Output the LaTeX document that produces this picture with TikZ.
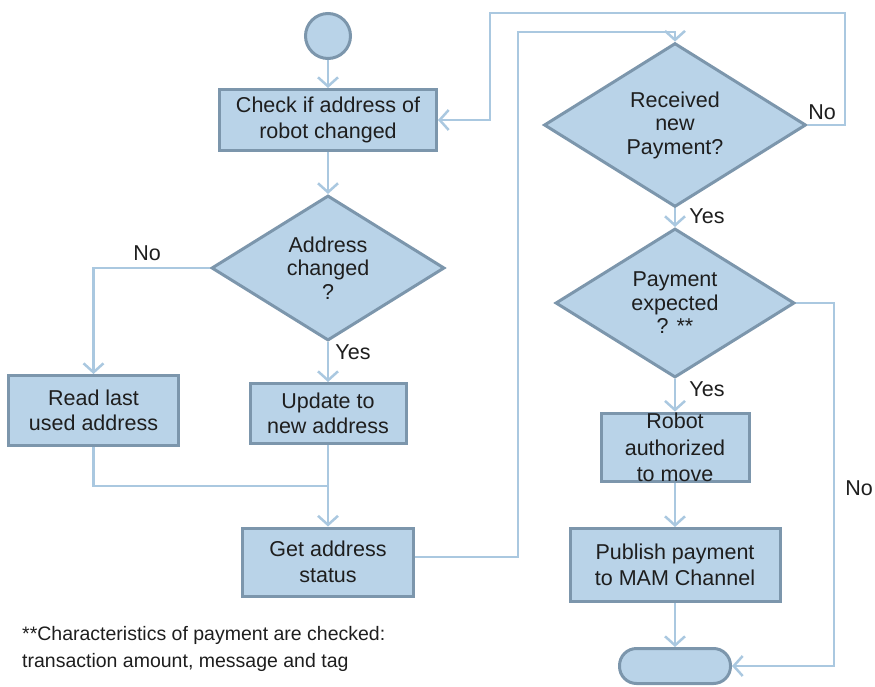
\documentclass[tikz,border=0pt]{standalone}
\usepackage{fontspec}
\setmainfont{Liberation Sans}
\usetikzlibrary{shapes.geometric,arrows.meta}
\definecolor{boxfill}{RGB}{185,211,232}
\definecolor{boxline}{RGB}{124,150,172}
\definecolor{connclr}{RGB}{170,200,224}
\definecolor{txt}{RGB}{30,30,30}
\begin{document}
\begin{tikzpicture}[x=1pt,y=-1pt,
  every node/.style={text=txt},
  shapebase/.style={draw=boxline, line width=3pt, fill=boxfill, inner sep=0pt, align=center},
  proc/.style={shapebase, rectangle, font=\fontsize{21.5}{25.5}\selectfont},
  decision/.style={shapebase, diamond, font=\fontsize{21.5}{23.5}\selectfont},
  lbl/.style={font=\fontsize{21.5}{25}\selectfont, inner sep=0pt},
  conn/.style={draw=connclr, line width=2.5pt},
  arr/.style={conn, -{Straight Barb[length=9pt,width=20pt]}},
]
\useasboundingbox (0,0) rectangle (875,687);

% nodes
\node[shapebase, circle, minimum size=45pt] (start) at (328,36) {};
\node[proc, minimum width=217pt, minimum height=61pt] (check) at (328,120) {Check if address of\\robot changed};
\node[decision, minimum width=233pt, minimum height=130pt] (d1) at (328,268) {Address\\changed\\?};
\node[proc, minimum width=170pt, minimum height=70pt] (read) at (93.5,410.5) {Read last\\used address};
\node[proc, minimum width=156pt, minimum height=60pt] (upd) at (328,413.5) {Update to\\new address};
\node[proc, minimum width=171pt, minimum height=68pt] (get) at (328,562) {Get address\\status};
\node[decision, minimum width=262pt, minimum height=134pt] (d2) at (675,125) {Received\\new\\Payment?};
\node[decision, minimum width=239pt, minimum height=124pt] (d3) at (675,303) {Payment\\expected\\? **};
\node[proc, minimum width=148pt, minimum height=68pt, font=\fontsize{21.5}{26.5}\selectfont] (robot) at (675,447.5) {Robot\\authorized\\to move};
\node[proc, minimum width=210pt, minimum height=73pt] (pub) at (675,565) {Publish payment\\to MAM Channel};
\node[shapebase, rectangle, rounded corners=17pt, minimum width=111pt, minimum height=35pt] (term) at (675,666) {};

% labels
\node[lbl] (no1) at (147,253) {No};
\node[lbl] (yes1) at (353,352) {Yes};
\node[lbl] (no2) at (822,112) {No};
\node[lbl] (yes2) at (707,216) {Yes};
\node[lbl] (yes3) at (707,389) {Yes};
\node[lbl] (no3) at (859,488) {No};

\node[anchor=west, align=left, inner sep=0pt, font=\fontsize{19.5}{27}\selectfont] (note) at (22,649)
  {**Characteristics of payment are checked:\\transaction amount, message and tag};

% helper coordinates
\coordinate (join) at (328,486);
\coordinate (g1) at (518,557);
\coordinate (g2) at (518,32);
\coordinate (n1) at (845,13);
\coordinate (n2) at (490,13);
\coordinate (n3) at (834,666);

% connectors
\draw[arr] (start) -- (check);
\draw[arr] (check) -- (d1);
\draw[arr] (d1.west) -| (read.north);
\draw[arr] (d1) -- (upd);
\draw[conn] (read.south) |- (join);
\draw[arr] (upd) -- (get);
\draw[arr] (get.east |- g1) -- (g1) -- (g2) -| (d2.north);
\draw[arr] (d2.east) -| (n1) -- (n2) |- (check.east);
\draw[arr] (d2) -- (d3);
\draw[arr] (d3) -- (robot);
\draw[arr] (robot) -- (pub);
\draw[arr] (pub) -- (term);
\draw[arr] (d3.east) -| (n3) -- (term.east);
\end{tikzpicture}
\end{document}
